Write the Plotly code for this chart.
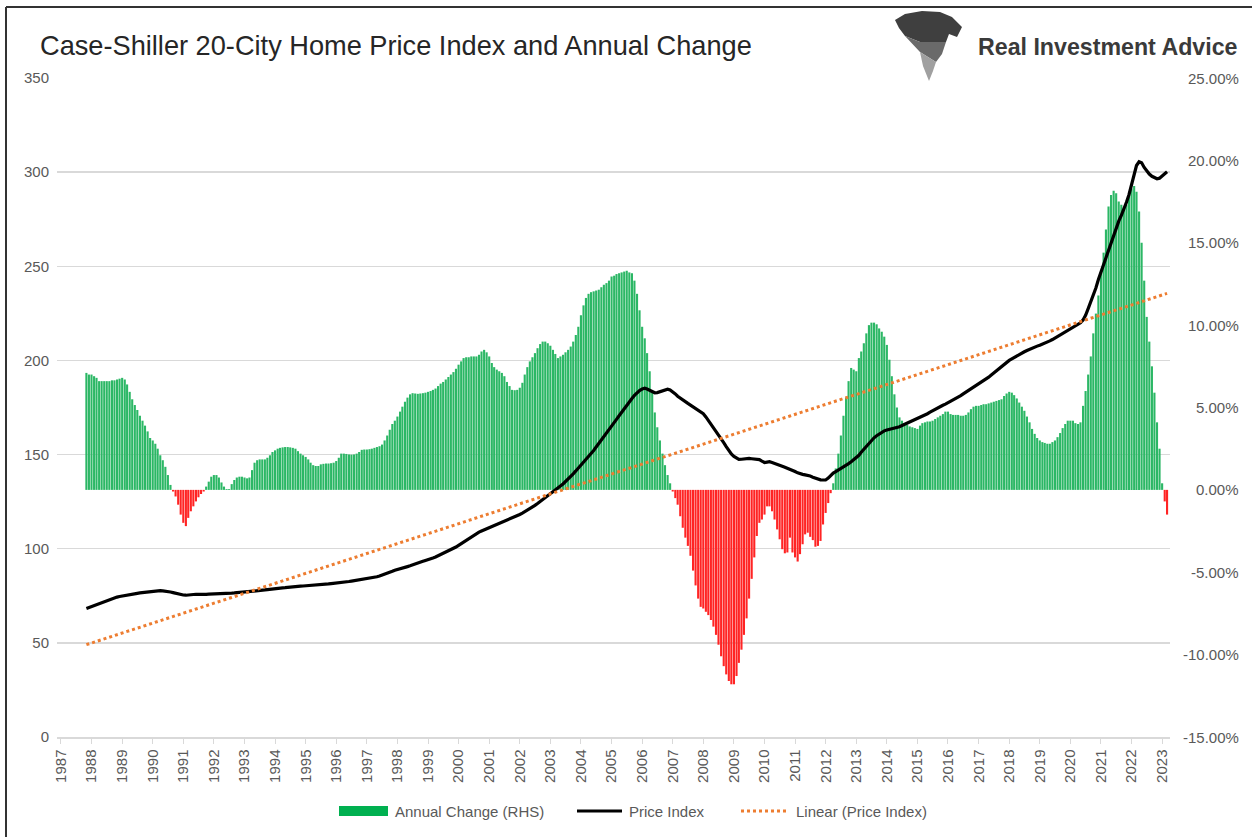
import numpy as np
import pandas as pd
import plotly.graph_objects as go

# ---------------- data ----------------
# Monthly observations, Nov 1987 .. Mar 2023
start_month = "1987-11-01"

annual_change_pct = [
    7.1, 7.0,                                                              # 1987 (Nov-Dec)
    7.0, 6.9, 6.8, 6.6, 6.6, 6.6, 6.6, 6.6, 6.65, 6.65, 6.7, 6.75,          # 1988
    6.8, 6.7, 6.4, 5.95, 5.5, 5.15, 4.85, 4.5, 4.2, 3.9, 3.55, 3.15,        # 1989
    3.0, 2.8, 2.5, 2.1, 1.8, 1.4, 0.9, 0.3, -0.1, -0.4, -0.9, -1.5,         # 1990
    -2.0, -2.2, -1.7, -1.3, -1.0, -0.7, -0.45, -0.25, -0.1, 0.2, 0.5, 0.8,  # 1991
    0.9, 0.9, 0.75, 0.45, 0.2, 0.05, 0.05, 0.35, 0.6, 0.75, 0.8, 0.8,       # 1992
    0.75, 0.7, 0.75, 1.2, 1.65, 1.8, 1.85, 1.85, 1.85, 1.95, 2.1, 2.3,      # 1993
    2.4, 2.5, 2.55, 2.58, 2.6, 2.6, 2.58, 2.55, 2.5, 2.35, 2.2, 2.1,        # 1994
    2.0, 1.85, 1.65, 1.5, 1.45, 1.45, 1.55, 1.58, 1.6, 1.6, 1.62, 1.65,     # 1995
    1.75, 1.95, 2.2, 2.2, 2.18, 2.15, 2.14, 2.15, 2.2, 2.3, 2.43, 2.45,     # 1996
    2.45, 2.47, 2.5, 2.55, 2.6, 2.65, 2.75, 3.0, 3.3, 3.65, 4.0, 4.2,       # 1997
    4.45, 4.75, 5.05, 5.35, 5.6, 5.8, 5.87, 5.85, 5.83, 5.85, 5.87, 5.9,    # 1998
    5.95, 6.0, 6.07, 6.15, 6.3, 6.45, 6.55, 6.7, 6.85, 7.0, 7.15, 7.35,     # 1999
    7.6, 7.8, 8.0, 8.05, 8.05, 8.1, 8.1, 8.1, 8.2, 8.4, 8.5, 8.35,          # 2000
    8.1, 7.7, 7.45, 7.3, 7.2, 7.1, 6.9, 6.55, 6.3, 6.07, 6.05, 6.07,        # 2001
    6.2, 6.5, 7.0, 7.45, 7.8, 8.05, 8.3, 8.6, 8.85, 9.0, 9.0, 8.9,          # 2002
    8.75, 8.5, 8.25, 8.0, 8.1, 8.2, 8.35, 8.5, 8.7, 9.0, 9.4, 9.9,          # 2003
    10.6, 11.2, 11.65, 11.9, 12.0, 12.05, 12.1, 12.15, 12.3, 12.45, 12.55, 12.7,  # 2004
    12.95, 13.0, 13.1, 13.15, 13.2, 13.25, 13.3, 13.2, 13.15, 12.7, 11.9, 10.9,   # 2005
    9.9, 9.2, 8.3, 7.2, 5.9, 4.7, 3.8, 3.0, 2.2, 1.5, 0.9, 0.4,             # 2006
    -0.1, -0.5, -0.9, -1.6, -2.3, -2.9, -3.4, -4.0, -4.9, -5.8, -6.6, -7.1, # 2007
    -7.2, -7.4, -7.6, -7.9, -8.3, -8.8, -9.4, -10.1, -10.7, -11.2, -11.6, -11.8,  # 2008
    -11.8, -11.3, -10.5, -9.7, -8.8, -7.8, -6.6, -5.4, -4.1, -2.8, -2.0, -1.8,    # 2009
    -1.5, -1.0, -1.0, -1.3, -1.8, -2.4, -3.0, -3.6, -3.85, -3.8, -2.9, -3.8,      # 2010
    -4.1, -4.35, -3.9, -3.3, -2.7, -2.6, -2.85, -3.05, -3.45, -3.4, -3.1, -2.1,   # 2011
    -1.4, -0.8, -0.2, 0.4, 1.3, 2.2, 3.3, 4.5, 5.6, 6.6, 7.4, 7.3,          # 2012
    7.2, 8.0, 8.4, 8.9, 9.5, 10.0, 10.15, 10.15, 10.05, 9.8, 9.6, 9.3,      # 2013
    8.8, 7.9, 6.9, 5.8, 5.0, 4.4, 4.2, 4.05, 3.95, 3.85, 3.8, 3.75,         # 2014
    3.7, 3.9, 4.05, 4.1, 4.15, 4.15, 4.2, 4.3, 4.4, 4.5, 4.6, 4.75,         # 2015
    4.75, 4.6, 4.55, 4.55, 4.55, 4.5, 4.5, 4.55, 4.7, 4.9, 5.05, 5.1,       # 2016
    5.1, 5.15, 5.2, 5.2, 5.25, 5.3, 5.35, 5.4, 5.45, 5.5, 5.7, 5.85,        # 2017
    5.95, 5.9, 5.75, 5.55, 5.3, 5.05, 4.8, 4.45, 4.1, 3.7, 3.4, 3.15,       # 2018
    3.0, 2.9, 2.85, 2.8, 2.8, 2.9, 3.0, 3.2, 3.45, 3.75, 4.0, 4.2,          # 2019
    4.2, 4.2, 4.05, 4.0, 4.1, 5.1, 6.0, 7.0, 8.1, 9.5, 10.7, 11.8,          # 2020
    13.2, 14.4, 15.8, 17.2, 17.9, 18.15, 18.0, 17.5, 17.3, 17.1, 17.3, 17.8,  # 2021
    18.3, 18.45, 18.1, 16.9, 15.0, 12.7, 10.5, 9.0, 7.5, 5.9, 4.1, 2.5,     # 2022
    0.4, -0.7, -1.5,                                                        # 2023 (Jan-Mar)
]

price_index = [
    68.3, 68.8,                                                             # 1987 (Nov-Dec)
    69.3, 69.8, 70.3, 70.8, 71.4, 72.0, 72.6, 73.1, 73.6, 74.0, 74.3, 74.6, # 1988
    74.9, 75.1, 75.4, 75.7, 75.9, 76.1, 76.3, 76.5, 76.7, 76.9, 77.1, 77.3, # 1989
    77.5, 77.6, 77.7, 77.7, 77.6, 77.5, 77.3, 77.0, 76.7, 76.3, 75.9, 75.6, # 1990
    75.4, 75.3, 75.5, 75.7, 75.8, 75.8, 75.8, 75.7, 75.8, 75.8, 75.9, 76.0, # 1991
    76.0, 76.1, 76.1, 76.2, 76.2, 76.3, 76.3, 76.4, 76.5, 76.6, 76.7, 76.9, # 1992
    77.0, 77.1, 77.2, 77.3, 77.4, 77.6, 77.7, 77.9, 78.1, 78.3, 78.5, 78.8, # 1993
    78.9, 79.0, 79.1, 79.2, 79.3, 79.5, 79.6, 79.8, 79.9, 80.0, 80.1, 80.2, # 1994
    80.3, 80.3, 80.4, 80.4, 80.6, 80.7, 80.9, 81.0, 81.2, 81.3, 81.5, 81.6, # 1995
    81.8, 81.9, 82.1, 82.3, 82.5, 82.6, 82.8, 83.0, 83.2, 83.4, 83.6, 83.8, # 1996
    84.0, 84.2, 84.5, 84.8, 85.1, 85.5, 85.9, 86.4, 86.9, 87.5, 88.0, 88.6, # 1997
    88.9, 89.3, 89.7, 90.1, 90.5, 90.9, 91.3, 91.8, 92.3, 92.8, 93.3, 93.8, # 1998
    94.1, 94.6, 95.1, 95.6, 96.2, 96.8, 97.4, 98.0, 98.7, 99.4, 100.1, 100.9,      # 1999
    101.8, 102.7, 103.7, 104.7, 105.7, 106.6, 107.4, 108.1, 108.8, 109.4, 110.0, 110.5,  # 2000
    110.9, 111.5, 112.1, 112.7, 113.2, 113.7, 114.3, 114.9, 115.5, 116.1, 116.8, 117.5,  # 2001
    118.2, 118.9, 119.6, 120.3, 121.1, 122.0, 123.0, 124.0, 125.0, 126.0, 127.1, 128.2,  # 2002
    129.2, 130.2, 131.2, 132.2, 133.3, 134.4, 135.6, 136.9, 138.3, 139.8, 141.3, 142.8,  # 2003
    144.3, 145.8, 147.3, 148.9, 150.5, 152.2, 154.0, 155.8, 157.6, 159.4, 161.2, 163.0,  # 2004
    164.9, 166.8, 168.7, 170.6, 172.5, 174.4, 176.3, 178.1, 179.8, 181.4, 182.8, 184.0,  # 2005
    184.8, 185.2, 184.8, 184.0, 183.2, 182.8, 182.9, 183.4, 184.0, 184.5, 184.7, 184.3,  # 2006
    183.4, 182.2, 181.0, 179.9, 178.9, 178.0, 177.2, 176.3, 175.4, 174.5, 173.6, 172.8,  # 2007
    171.7, 170.0, 168.2, 166.4, 164.6, 162.6, 160.5, 158.4, 156.3, 154.2, 152.0, 150.3,  # 2008
    149.0, 148.0, 147.4, 147.5, 147.8, 148.0, 148.0, 147.8, 147.6, 147.5, 147.3, 146.5,  # 2009
    145.8, 146.0, 146.2, 145.8, 145.2, 144.6, 144.3, 143.8, 143.3, 142.8, 142.3, 141.7,  # 2010
    141.0, 140.3, 139.8, 139.5, 139.2, 139.0, 138.6, 138.0, 137.4, 136.9, 136.6, 136.5,  # 2011
    136.5, 137.5, 139.0, 140.2, 141.0, 141.8, 142.5, 143.2, 144.2, 145.2, 146.2, 147.2,  # 2012
    148.2, 149.6, 151.2, 152.8, 154.4, 156.0, 157.6, 158.9, 160.0, 161.0, 161.9, 162.6,  # 2013
    163.1, 163.4, 163.7, 164.0, 164.4, 164.8, 165.4, 166.0, 166.7, 167.3, 167.9, 168.5,  # 2014
    169.0, 169.6, 170.3, 171.0, 171.7, 172.5, 173.3, 174.1, 174.9, 175.6, 176.2, 176.8,  # 2015
    177.5, 178.2, 178.9, 179.6, 180.4, 181.3, 182.2, 183.1, 184.0, 184.9, 185.7, 186.5,  # 2016
    187.3, 188.1, 189.0, 190.0, 191.1, 192.2, 193.3, 194.5, 195.7, 196.9, 198.0, 199.1,  # 2017
    200.0, 200.8, 201.6, 202.4, 203.2, 203.9, 204.6, 205.3, 206.0, 206.6, 207.1, 207.6,  # 2018
    208.1, 208.6, 209.1, 209.7, 210.4, 211.1, 211.9, 212.7, 213.6, 214.5, 215.4, 216.3,  # 2019
    217.0, 217.8, 218.6, 219.3, 220.0, 221.5, 224.0, 227.5, 231.0, 234.5, 238.5, 243.0,  # 2020
    247.0, 250.0, 254.0, 258.0, 262.0, 266.0, 270.0, 274.0, 277.0, 280.0, 284.0, 288.0,  # 2021
    293.0, 299.0, 303.5, 305.5, 305.0, 302.5, 300.5, 299.0, 297.8, 297.0, 296.5, 296.8,  # 2022
    297.8, 299.0, 300.2,                                                                 # 2023 (Jan-Mar)
]

tick_years = list(range(1987, 2024))
left_ticks = [0, 50, 100, 150, 200, 250, 300, 350]
right_ticks = [-15, -10, -5, 0, 5, 10, 15, 20, 25]
legend_labels = ["Annual Change (RHS)", "Price Index", "Linear (Price Index)"]

# ---------------- derived ----------------
dates = pd.date_range(start_month, periods=len(annual_change_pct), freq="MS")
GREEN, RED = "#2BB765", "#FF2424"
bar_colors = [GREEN if v >= 0 else RED for v in annual_change_pct]
idx = np.arange(len(price_index))
slope, intercept = np.polyfit(idx, np.array(price_index), 1)
trend = intercept + slope * idx

GREY = "#595959"
FONT = "Liberation Sans, Arial, sans-serif"
W, H = 1252, 837
ML, MR, MT, MB = 57, 82, 78, 100
PW, PH = W - ML - MR, H - MT - MB


def px(x):
    return (x - ML) / PW


def py(y):
    return (H - MB - y) / PH


fig = go.Figure()
fig.add_trace(go.Bar(
    x=dates, y=annual_change_pct, name=legend_labels[0], showlegend=False,
    marker=dict(color=bar_colors, line=dict(width=0)), yaxis="y",
))
fig.add_trace(go.Scatter(
    x=dates, y=price_index, name=legend_labels[1], mode="lines", showlegend=False,
    line=dict(color="#000000", width=3.2), yaxis="y2",
))
fig.add_trace(go.Scatter(
    x=dates, y=trend, name=legend_labels[2], mode="lines", showlegend=False,
    line=dict(color="#ED7D31", width=3, dash="dot"), yaxis="y2",
))

fig.update_layout(
    width=W, height=H,
    margin=dict(l=ML, r=MR, t=MT, b=MB, autoexpand=False),
    paper_bgcolor="white", plot_bgcolor="white",
    font=dict(family=FONT, color=GREY, size=15),
    bargap=0.1,
    showlegend=False,
    hovermode=False,
    title=dict(text="Case-Shiller 20-City Home Price Index and Annual Change",
               x=40 / W, xanchor="left", xref="container",
               y=1 - 45 / H, yanchor="middle", yref="container",
               font=dict(family=FONT, size=27.2, color="#262626")),
    xaxis=dict(
        type="date", automargin=False,
        range=["1986-11-15", "2023-04-05"],
        tickmode="array",
        tickvals=[f"{y}-01-01" for y in tick_years],
        ticktext=[str(y) for y in tick_years],
        tickangle=-90,
        tickfont=dict(size=15, color=GREY),
        showgrid=False, zeroline=False,
        showline=True, linecolor="#D9D9D9", linewidth=1.5,
        ticks="outside", ticklen=5, tickcolor="#D9D9D9",
    ),
    yaxis=dict(
        side="right", range=[-15, 25], tickmode="array", tickvals=right_ticks,
        showticklabels=False, automargin=False,
        showgrid=False, zeroline=False, showline=False,
    ),
    yaxis2=dict(
        overlaying="y", side="left", range=[0, 350], tickmode="array", tickvals=left_ticks,
        automargin=False,
        showgrid=True, gridcolor="#D9D9D9", gridwidth=1.5, zeroline=False, showline=False,
        tickfont=dict(size=15, color=GREY), ticklabelstandoff=7,
    ),
)

# right-hand (percentage) axis labels, right-aligned as in the original
for v in right_ticks:
    fig.add_annotation(text=f"{v:.2f}%", xref="paper", yref="y", x=px(1241), y=v,
                       xanchor="right", yanchor="middle", showarrow=False,
                       font=dict(size=15, color=GREY))

# ---------------- manual legend (Excel style) ----------------
LY = 811
fig.add_shape(type="rect", xref="paper", yref="paper",
              x0=px(339), x1=px(388), y0=py(806), y1=py(816),
              fillcolor="#00B050", line=dict(width=0))
fig.add_shape(type="line", xref="paper", yref="paper",
              x0=px(577), x1=px(622), y0=py(LY), y1=py(LY),
              line=dict(color="#000000", width=3.2))
fig.add_shape(type="line", xref="paper", yref="paper",
              x0=px(741), x1=px(786), y0=py(LY), y1=py(LY),
              line=dict(color="#ED7D31", width=3, dash="dot"))
for xpos, label in zip([393, 627, 794], legend_labels):
    fig.add_annotation(text=label, xref="paper", yref="paper", x=px(xpos), y=py(LY),
                       xanchor="left", yanchor="middle", showarrow=False,
                       font=dict(size=15, color=GREY))

# ---------------- brand mark ----------------
fig.add_annotation(text="<b>Real Investment Advice</b>", xref="paper", yref="paper",
                   x=px(976), y=py(47), xanchor="left", yanchor="middle",
                   showarrow=False, font=dict(family=FONT, size=23.2, color="#3A3A3A"))


def pth(points):
    return "M " + " L ".join(f"{px(a):.5f} {py(b):.5f}" for a, b in points) + " Z"


emblem_top = [(895, 20), (905, 14), (922, 11), (940, 12), (952, 17), (962, 27),
              (957, 37), (949, 34), (946, 42), (920, 42), (905, 36), (899, 28)]
emblem_mid = [(905, 36), (920, 42), (946, 42), (942, 54), (936, 62), (920, 52)]
emblem_low = [(920, 52), (936, 62), (933, 71), (929, 81), (923, 66)]
for poly, col in [(emblem_top, "#3F3F3F"), (emblem_mid, "#6A6A6A"), (emblem_low, "#A0A0A0")]:
    fig.add_shape(type="path", xref="paper", yref="paper", path=pth(poly),
                  fillcolor=col, line=dict(width=0), layer="above")

# frame of the original chart image (top and left edges)
fig.add_shape(type="line", xref="paper", yref="paper", x0=px(6), x1=px(W), y0=py(7), y1=py(7),
              line=dict(color="#333333", width=2))
fig.add_shape(type="line", xref="paper", yref="paper", x0=px(6), x1=px(6), y0=py(7), y1=py(H),
              line=dict(color="#333333", width=2))

fig.write_html("out.html", config={"displayModeBar": False, "staticPlot": True},
               post_script="document.body.style.margin='0';")
